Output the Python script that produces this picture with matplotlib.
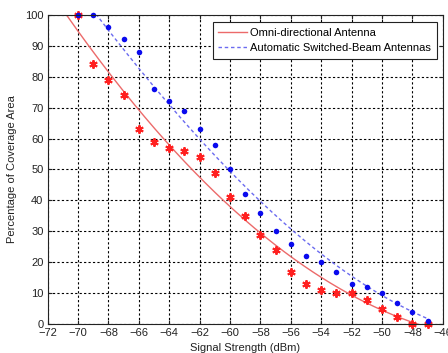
import numpy as np
import matplotlib
matplotlib.use("Agg")
import matplotlib.pyplot as plt

plt.rcParams['font.family'] = ['Liberation Sans', 'DejaVu Sans']

# Measured coverage per signal level
signal_dbm = [-70, -69, -68, -67, -66, -65, -64, -63, -62, -61, -60, -59,
              -58, -57, -56, -55, -54, -53, -52, -51, -50, -49, -48, -47]
omni_cov = [100, 84, 79, 74, 63, 59, 57, 56, 54, 49, 41, 35,
            29, 24, 17, 13, 11, 10, 10, 8, 5, 2.5, 0, 0]
switched_cov = [100, 100, 96, 92, 88, 76, 72, 69, 63, 58, 50, 42,
                36, 30, 26, 22, 20, 17, 13, 12, 10, 7, 4, 1]

# Trend curves (sampled), smoothed with a low-order polynomial
omni_trend_x = [-70.8, -68, -66, -64.2, -62, -58, -55.4, -53.9, -51.9, -49.9, -47.9]
omni_trend_y = [100, 82.1, 69.2, 58.5, 47.7, 29.2, 19.7, 14.9, 9.5, 4.6, 0.1]
switched_trend_x = [-69, -68, -67, -66, -65, -64, -63, -62, -60, -58, -56,
                    -55.4, -53.4, -52, -50, -48, -47]
switched_trend_y = [100, 96.7, 90.2, 81.6, 75.7, 70.8, 65.4, 59.5, 50.6, 39.5, 30.7,
                    28.3, 20.2, 15.4, 9.5, 4.6, 1.4]

x = np.array(signal_dbm, dtype=float)
xr = np.linspace(-71.5, -47.0, 300)
xb = np.linspace(-70.0, -46.95, 300)
omni_fit = np.polyval(np.polyfit(omni_trend_x, omni_trend_y, 2), xr)
switched_fit = np.polyval(np.polyfit(switched_trend_x, switched_trend_y, 3), xb)

fig = plt.figure(figsize=(4.48, 3.53), dpi=100)
ax = fig.add_axes([0.1063, 0.0813, 0.8821, 0.8771])

red_line = '#ec6a6a'
blue_line = '#6b6bf0'

ax.plot(xr, omni_fit, '-', color=red_line, lw=1.0, label='Omni-directional Antenna')
ax.plot(xb, switched_fit, '--', color=blue_line, lw=1.0, dashes=(2.5, 2),
        label='Automatic Switched-Beam Antennas')
ax.plot(x, omni_cov, linestyle='none', marker=(6, 2, 0), ms=6, mew=1.4,
        color='#ff2020', clip_on=False)
ax.plot(x, switched_cov, linestyle='none', marker='o', ms=4.0, mew=0,
        color='#0a0aee', clip_on=False)

ax.set_xlim(-72, -46)
ax.set_ylim(0, 100)
ax.set_xticks(np.arange(-72, -45, 2))
ax.set_yticks(np.arange(0, 101, 10))
ax.grid(True, color='black', linestyle=(0, (2, 2)), linewidth=0.8)
ax.tick_params(direction='in', top=True, right=True, labelsize=8,
               length=3, colors='#222222', pad=3)
for s in ax.spines.values():
    s.set_color('#222222')
    s.set_linewidth(0.8)

ax.set_xlabel('Signal Strength (dBm)', fontsize=8, color='#222222', labelpad=3)
ax.set_ylabel('Percentage of Coverage Area', fontsize=8, color='#222222', labelpad=6)

leg = ax.legend(loc='upper right', bbox_to_anchor=(0.985, 0.975), fontsize=8,
                frameon=True, fancybox=False, handlelength=2.6,
                borderpad=0.5, labelspacing=0.45, handletextpad=0.3,
                borderaxespad=0)
leg.get_frame().set_edgecolor('#222222')
leg.get_frame().set_linewidth(0.8)
leg.get_frame().set_alpha(1)

fig.savefig('out.png', dpi=100, facecolor='white')
